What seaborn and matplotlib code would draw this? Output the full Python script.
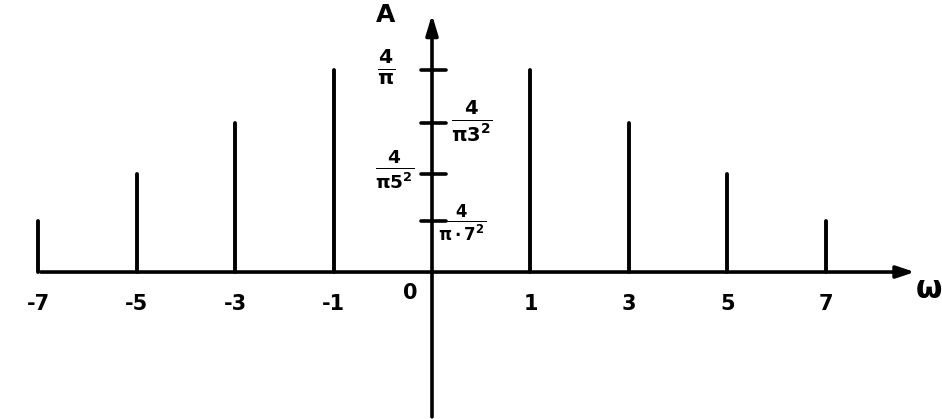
import numpy as np
import pandas as pd
import matplotlib
matplotlib.use("Agg")
import matplotlib.pyplot as plt
import seaborn as sns

# data
omega = [-7, -5, -3, -1, 1, 3, 5, 7]
amplitude = [0.32, 0.62, 0.94, 1.27, 1.27, 0.94, 0.62, 0.32]
xtick_labels = ["-7", "-5", "-3", "-1", "1", "3", "5", "7"]
ytick_values = [1.27, 0.94, 0.62, 0.32]
ytick_labels = [r"$\frac{4}{\pi}$", r"$\frac{4}{\pi 3^2}$", r"$\frac{4}{\pi 5^2}$", r"$\frac{4}{\pi\cdot 7^2}$"]

sns.set_theme(style="white")
plt.rcParams["font.family"] = ["DejaVu Sans"]
plt.rcParams["mathtext.fontset"] = "dejavusans"
plt.rcParams["mathtext.default"] = "bf"
plt.rcParams["text.color"] = "black"


def pos(w):
    # the sketch spaces the lines evenly, with a double gap around 0
    return np.sign(w) * (np.abs(w) + 1) / 2.0


rows = []
for w, a in zip(omega, amplitude):
    rows.append({"pos": pos(w), "A": 0.0, "line": w})
    rows.append({"pos": pos(w), "A": a, "line": w})
df = pd.DataFrame(rows)

fig = plt.figure(figsize=(9.42, 4.19), dpi=100)
ax = fig.add_axes([0, 0, 1, 1])
ax.set_xlim(-4.386, 5.178)
ax.set_ylim(-0.926, 1.714)
ax.axis("off")

sns.lineplot(data=df, x="pos", y="A", units="line", estimator=None, sort=False,
             color="black", lw=2.8, ax=ax, legend=False)

# axes with arrows
ax.annotate("", xy=(4.93, 0), xytext=(pos(-7), 0),
            arrowprops=dict(arrowstyle="-|>,head_length=0.9,head_width=0.3", color="black", lw=2.6))
ax.annotate("", xy=(0, 1.64), xytext=(0, -0.93),
            arrowprops=dict(arrowstyle="-|>,head_length=1.0,head_width=0.3", color="black", lw=2.6))

# x tick labels
for w, lab in zip(omega, xtick_labels):
    ax.text(pos(w), -0.20, lab, ha="center", va="center", fontsize=15, fontweight="bold", color="black")
ax.text(-0.22, -0.13, "0", ha="center", va="center", fontsize=15, fontweight="bold", color="black")
ax.text(5.04, -0.11, r"$\omega$", ha="center", va="center", fontsize=22, color="black")

# y ticks
for v in ytick_values:
    ax.plot([-0.11, 0.14], [v, v], color="black", lw=2.6)
ax.text(-0.47, 1.29, ytick_labels[0], ha="center", va="center", fontsize=21, color="black")
ax.text(0.40, 0.95, ytick_labels[1], ha="center", va="center", fontsize=20, color="black")
ax.text(-0.38, 0.65, ytick_labels[2], ha="center", va="center", fontsize=19, color="black")
ax.text(0.30, 0.31, ytick_labels[3], ha="center", va="center", fontsize=17, color="black")
ax.text(-0.47, 1.62, "A", ha="center", va="center", fontsize=18, fontweight="bold", color="black")

fig.savefig("out.png", dpi=100)
